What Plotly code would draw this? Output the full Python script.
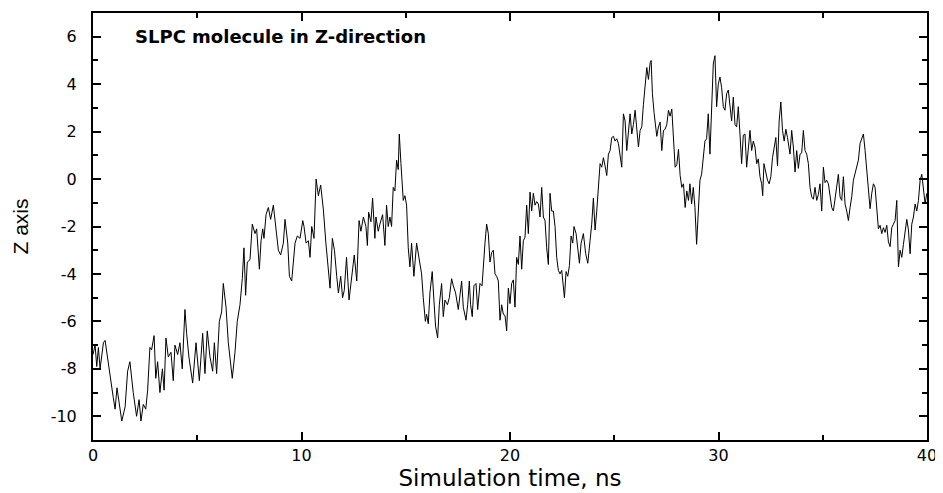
import plotly.graph_objects as go

# ---- data (time in ns, Z position) ----
t_a = [0.00, 0.10, 0.18, 0.26, 0.34, 0.42, 0.50, 0.58, 0.70, 0.82, 0.97, 1.06, 1.15, 1.38, 1.54, 1.66, 1.77, 1.93, 2.09, 2.21,
       2.30, 2.41, 2.53, 2.62, 2.73, 2.81, 2.93, 3.01, 3.10, 3.21, 3.33, 3.41, 3.50, 3.61, 3.74, 3.85, 3.93, 4.06, 4.17, 4.28,
       4.41, 4.49, 4.60]
z_a = [-7.4, -7.0, -7.9, -7.1, -8.0, -7.3, -6.9, -6.8, -7.6, -8.4, -9.2, -9.7, -8.8, -10.2, -9.6, -8.1, -7.7, -9.0, -10.0, -9.3,
       -10.2, -9.5, -9.7, -8.9, -7.1, -7.2, -6.6, -8.4, -7.7, -9.0, -8.0, -8.9, -6.7, -7.5, -7.3, -8.5, -7.0, -7.4, -6.9, -8.0,
       -5.5, -6.5, -7.5]

t_b = [4.78, 4.94, 5.10, 5.26, 5.37, 5.48, 5.61, 5.74, 5.82, 5.93, 6.06, 6.17, 6.25, 6.38, 6.49, 6.68, 6.81, 6.92, 7.05, 7.16,
       7.24, 7.32, 7.40, 7.53, 7.64, 7.77, 7.85, 7.93, 7.98, 8.06, 8.14, 8.20, 8.30, 8.41, 8.52, 8.65, 8.77, 8.89, 9.00, 9.13,
       9.21, 9.34, 9.42, 9.53]
z_b = [-8.6, -6.9, -8.5, -6.5, -8.2, -6.4, -7.5, -8.1, -6.9, -8.2, -6.0, -5.6, -4.4, -5.4, -6.9, -8.4, -7.3, -6.0, -5.3, -4.2,
       -2.9, -4.9, -3.5, -3.4, -1.9, -2.3, -2.1, -3.0, -3.8, -2.6, -2.1, -2.5, -1.5, -1.2, -1.7, -1.1, -2.1, -3.0, -3.2, -2.7,
       -1.7, -2.7, -4.1, -4.3]

t_c = [9.69, 9.80, 9.93, 10.06, 10.12, 10.22, 10.33, 10.41, 10.49, 10.60, 10.70, 10.81, 10.92, 11.05, 11.17, 11.29, 11.37,
       11.48, 11.58, 11.69, 11.77, 11.88, 11.97, 12.05, 12.16, 12.28, 12.41, 12.53, 12.65, 12.76, 12.85, 12.97, 13.09, 13.16,
       13.22, 13.33, 13.41, 13.52, 13.57, 13.68, 13.76, 13.89, 14.00, 14.08, 14.16, 14.24, 14.32]
z_c = [-2.7, -2.4, -2.5, -1.75, -2.0, -2.7, -2.6, -3.3, -2.0, -2.5, 0.0, -0.7, -0.25, -1.3, -2.7, -3.7, -4.6,
       -2.5, -3.0, -4.1, -4.8, -4.1, -5.0, -4.7, -3.3, -5.1, -4.2, -3.2, -4.3, -1.75, -2.2, -1.6, -2.0, -2.8,
       -1.4, -1.8, -0.8, -2.5, -1.6, -2.2, -1.9, -1.5, -2.8, -1.1, -2.0, -1.6, -2.0]

t_d = [14.40, 14.48, 14.56, 14.64, 14.69, 14.77, 14.88, 14.96, 15.04, 15.12, 15.20, 15.28, 15.39, 15.52, 15.64, 15.76, 15.84,
       15.94, 16.00, 16.08, 16.16, 16.27, 16.35, 16.43, 16.53, 16.61, 16.72, 16.80, 16.88, 17.00, 17.09, 17.20, 17.28, 17.39,
       17.52, 17.60, 17.68, 17.76, 17.89, 17.97, 18.05, 18.11, 18.19, 18.27, 18.37, 18.45, 18.56, 18.66, 18.72, 18.80, 18.88,
       18.96, 19.04, 19.12, 19.20, 19.28, 19.36]
z_d = [-0.35, -0.5, 0.8, 0.4, 1.9, 0.65, -0.9, -0.7, -1.1, -2.9, -3.7, -2.7, -4.1, -2.7, -3.3, -4.0, -5.0,
       -6.0, -5.7, -6.1, -4.8, -3.9, -5.1, -6.2, -6.7, -5.3, -4.4, -5.8, -5.1, -5.3, -5.0, -4.2, -4.5, -4.8,
       -5.5, -5.0, -4.3, -5.4, -5.95, -5.3, -4.3, -5.3, -5.8, -4.5, -4.4, -5.5, -4.4, -4.5, -3.6, -2.7, -1.9,
       -2.3, -3.5, -3.1, -3.0, -4.0, -4.1]

t_e = [19.44, 19.52, 19.60, 19.68, 19.76, 19.84, 19.92, 20.00, 20.08, 20.16, 20.24, 20.32, 20.40, 20.48, 20.56, 20.64, 20.72,
       20.80, 20.88, 20.96, 21.04, 21.12, 21.20, 21.28, 21.36, 21.44, 21.52, 21.60, 21.68, 21.76, 21.84, 21.92, 22.00, 22.08,
       22.16, 22.24, 22.32, 22.40, 22.48, 22.56, 22.61, 22.69, 22.77, 22.85, 22.93, 23.01, 23.07, 23.17, 23.23, 23.33, 23.41,
       23.52, 23.63, 23.73, 23.84]
z_e = [-4.3, -5.95, -5.3, -5.7, -5.75, -6.4, -4.6, -5.25, -4.4, -4.25, -5.4, -3.3, -3.6, -2.4, -3.8, -2.6, -2.45,
       -1.1, -2.3, -0.55, -1.35, -0.6, -1.1, -0.95, -1.05, -1.6, -0.35, -1.6, -1.75, -2.9, -3.6, -0.6, -1.35, -1.35,
       -2.0, -3.3, -3.85, -4.0, -3.85, -4.55, -5.0, -3.9, -4.1, -3.65, -2.4, -2.7, -2.0, -2.3, -2.8, -3.55, -2.7,
       -2.3, -3.15, -3.55, -2.6]

t_f = [23.92, 24.00, 24.08, 24.16, 24.24, 24.32, 24.40, 24.48, 24.56, 24.64, 24.72, 24.80, 24.88, 24.96, 25.04, 25.12, 25.20,
       25.28, 25.36, 25.44, 25.52, 25.60, 25.68, 25.76, 25.84, 25.92, 26.00, 26.08, 26.16, 26.24, 26.32, 26.40, 26.48, 26.56,
       26.64, 26.72, 26.77, 26.83, 26.91, 26.99, 27.04, 27.12, 27.20, 27.28, 27.36, 27.44, 27.52, 27.60, 27.68, 27.76, 27.84,
       27.92, 28.00, 28.08, 28.16, 28.24, 28.32, 28.40, 28.48, 28.56]
z_f = [-1.9, -0.8, -2.15, -1.35, -0.35, 0.65, 0.5, 0.9, 0.55, 0.15, 1.05, 1.2, 1.75, 1.8, 1.6, 1.7, 1.5,
       1.05, 0.5, 2.75, 2.45, 1.2, 2.05, 2.75, 1.9, 2.3, 2.9, 2.2, 1.35, 2.05, 2.2, 3.15, 4.15, 4.7,
       4.2, 4.9, 5.0, 3.6, 2.8, 2.05, 1.8, 2.2, 2.4, 1.2, 2.05, 2.1, 2.3, 2.9, 2.65, 2.95, 1.9,
       0.5, 0.6, 1.25, 0.15, -0.35, -0.2, -1.2, -0.5, -0.9]

t_g = [28.63, 28.71, 28.79, 28.87, 28.95, 29.03, 29.11, 29.19, 29.27, 29.35, 29.43, 29.51, 29.59, 29.67, 29.75, 29.83, 29.91,
       29.99, 30.07, 30.15, 30.23, 30.31, 30.39, 30.47, 30.55, 30.63, 30.71, 30.79, 30.87, 30.95, 31.03, 31.11, 31.19, 31.27,
       31.35, 31.43, 31.51, 31.59, 31.67, 31.75, 31.83, 31.91, 31.99, 32.07, 32.12, 32.18, 32.27, 32.35, 32.43, 32.51, 32.59,
       32.67, 32.75, 32.83, 32.91, 32.99, 33.07, 33.15, 33.23, 33.31]
z_g = [-0.2, -1.05, -0.35, -1.2, -2.75, -1.2, -0.05, 0.2, 1.05, 1.6, 1.7, 2.75, 1.05, 3.3, 4.85, 5.2, 3.05,
       4.0, 4.3, 3.85, 3.05, 2.9, 3.6, 3.75, 3.15, 2.45, 3.45, 2.3, 2.2, 3.05, 1.9, 0.65, 1.85, 1.9,
       0.5, 1.35, 2.05, 1.2, 1.6, 1.35, 0.65, 0.85, 0.1, -0.2, -0.7, 0.65, 0.3, -0.05, -0.2, 0.1, 0.9,
       1.35, 1.75, 0.55, 2.45, 3.25, 2.05, 1.6, 2.1, 1.75]

t_h = [33.43, 33.51, 33.59, 33.67, 33.75, 33.83, 33.91, 33.99, 34.07, 34.15, 34.23, 34.31, 34.39, 34.47, 34.55, 34.63, 34.71,
       34.79, 34.87, 34.95, 35.03, 35.11, 35.19, 35.27, 35.35, 35.43, 35.51, 35.59, 35.67, 35.75, 35.83, 35.91, 35.99, 36.07,
       36.15, 36.23, 36.31, 36.39, 36.47, 36.55, 36.63, 36.71, 36.79, 36.87, 36.95, 37.03, 37.11, 37.19, 37.27, 37.35, 37.43,
       37.51, 37.59, 37.67, 37.75, 37.83, 37.91, 37.99, 38.07, 38.15, 38.23, 38.31, 38.39, 38.47, 38.55, 38.63, 38.71, 38.79,
       38.87, 38.95, 39.03, 39.11, 39.19, 39.27, 39.35, 39.43, 39.51, 39.59, 39.67, 39.75, 39.83, 39.91, 39.99]
z_h = [1.05, 2.05, 1.35, 0.3, 1.2, 0.45, 1.05, 1.1, 2.05, 1.2, 1.05, 0.65, -0.35, -0.75, -0.85, -0.35, -0.9,
       -0.65, -0.2, -1.35, 0.5, -0.15, -0.05, -0.2, -0.75, -1.2, -1.35, -0.75, -0.35, 0.2, -0.75, -0.9, 0.1, -1.05,
       -1.35, -1.75, -1.2, -0.75, -0.05, 0.2, 0.5, 0.8, 1.5, 1.75, 1.9, 1.2, 0.35, -0.6, -1.25, -0.6, -0.2,
       -0.35, -1.2, -2.1, -1.95, -2.3, -2.05, -2.25, -1.95, -2.65, -2.85, -2.05, -1.9, -1.75, -0.9, -3.7, -3.0, -3.3,
       -2.75, -2.15, -1.7, -2.15, -3.15, -1.9, -1.6, -1.05, -1.35, -0.9, -0.05, 0.2, -0.5, -1.05, -0.6]

time_ns = t_a + t_b + t_c + t_d + t_e + t_f + t_g + t_h
z_pos = z_a + z_b + z_c + z_d + z_e + z_f + z_g + z_h

x_ticks = [0, 10, 20, 30, 40]
x_labels = ["0", "10", "20", "30", "40"]
y_ticks = [-10, -8, -6, -4, -2, 0, 2, 4, 6]
y_labels = ["-10", "-8", "-6", "-4", "-2", "0", "2", "4", "6"]

WIDE = "DejaVu Sans, Verdana, sans-serif"
ARIAL = "Liberation Sans, Arial, sans-serif"

fig = go.Figure()
fig.add_trace(go.Scatter(x=time_ns, y=z_pos, mode="lines",
                         line=dict(color="black", width=1), showlegend=False))

axis_common = dict(showline=True, linecolor="black", linewidth=2, mirror="ticks",
                   ticks="inside", tickcolor="black", tickwidth=2, ticklen=8,
                   showgrid=False, zeroline=False,
                   tickfont=dict(family=WIDE, size=16, color="black"))

fig.update_xaxes(range=[0, 40], tickvals=x_ticks, ticktext=x_labels,
                 minor=dict(ticks="inside", dtick=5, ticklen=5, tickwidth=2, tickcolor="black"),
                 title=dict(text="Simulation time, ns", font=dict(family=WIDE, size=23, color="black"), standoff=4),
                 **axis_common)
fig.update_yaxes(range=[-11, 7], tickvals=y_ticks, ticktext=y_labels,
                 minor=dict(ticks="inside", dtick=1, tick0=-11, ticklen=5, tickwidth=2, tickcolor="black"),
                 title=dict(text="Z axis", font=dict(family=ARIAL, size=21, color="black"), standoff=16),
                 ticklabelstandoff=11,
                 **axis_common)

fig.add_annotation(text="<b>SLPC molecule in Z-direction</b>", xref="paper", yref="paper",
                   x=0.048, y=0.945, xanchor="left", yanchor="middle", showarrow=False,
                   font=dict(family=WIDE, size=18, color="black"))

# the page body adds an 8 px margin, so the figure is sized to fit the window after it
fig.update_layout(width=935, height=485, plot_bgcolor="white", paper_bgcolor="white",
                  margin=dict(l=85, r=16, t=5, b=53, autoexpand=False))

fig.write_html("out.html")
